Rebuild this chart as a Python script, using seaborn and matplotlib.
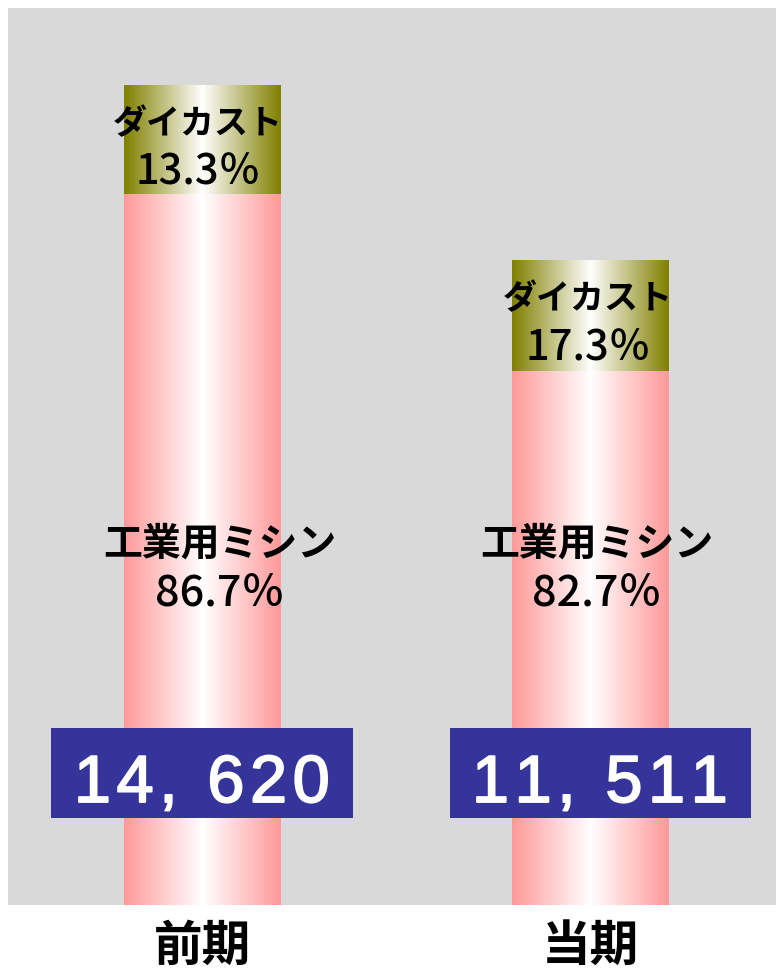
import numpy as np
import matplotlib
matplotlib.use("Agg")
import matplotlib.pyplot as plt
import matplotlib.transforms as mtransforms
import matplotlib.patheffects as pe
from matplotlib.colors import LinearSegmentedColormap
from matplotlib.patches import Rectangle
import seaborn as sns

periods = ["前期", "当期"]
totals = [14620, 11511]
sewing_share = [86.7, 82.7]
diecast_share = [13.3, 17.3]
sewing_name = "工業用ミシン"
diecast_name = "ダイカスト"

sewing_vals = [t * s / 100 for t, s in zip(totals, sewing_share)]

sns.set_style("white")
plt.rcParams["font.family"] = ["Noto Sans CJK JP", "DejaVu Sans"]
plt.rcParams["text.color"] = "black"

fig = plt.figure(figsize=(7.76, 9.71), dpi=100)
ax = fig.add_axes([8 / 776, 66 / 971, 768 / 776, 897 / 971])
ax.set_facecolor("#d9d9d9")

PINK = "#ff9999"
OLIVE = "#808000"

# 元図のラベルの横ずれ（ピクセル）
box_dx = [0, 10]
sewing_dx = [18, 7]
diecast_dx = [-4, -2]


def fill_gradient(ax, patch, color):
    x0, y0 = patch.get_x(), patch.get_y()
    w, h = patch.get_width(), patch.get_height()
    cmap = LinearSegmentedColormap.from_list("g", [color, "white", color])
    grad = np.linspace(0, 1, 256).reshape(1, -1)
    im = ax.imshow(grad, cmap=cmap, aspect="auto", interpolation="bicubic",
                   extent=(x0, x0 + w, y0, y0 + h), zorder=2)
    im.set_clip_path(patch)
    patch.set_facecolor("none")
    patch.set_edgecolor("none")


def spaced(v):
    # 数字の字間を少し広げる
    s = f"{v:,}".replace(",", ", ")
    return "\u200a".join(s)


# 全体（上段＝ダイカスト）と下段（工業用ミシン）
sns.barplot(x=periods, y=totals, color=OLIVE, width=0.402, errorbar=None, ax=ax)
n = len(ax.patches)
sns.barplot(x=periods, y=sewing_vals, color=PINK, width=0.402, errorbar=None, ax=ax)

top_patches = ax.patches[:n]
bot_patches = ax.patches[n:]
for p in top_patches:
    fill_gradient(ax, p, OLIVE)
for p in bot_patches:
    fill_gradient(ax, p, PINK)

ax.set_xlim(-0.5, 1.479)
ax.set_ylim(0, 16000)

trans = mtransforms.blended_transform_factory(ax.transData, ax.transAxes)


def shifted(base, dx=0, dy=0):
    return mtransforms.offset_copy(base, fig=fig, x=dx, y=dy, units="dots")


for i, (tp, bp) in enumerate(zip(top_patches, bot_patches)):
    cx = tp.get_x() + tp.get_width() / 2
    # ダイカスト
    ymid = bp.get_height() + (totals[i] - bp.get_height()) / 2
    ax.text(cx, ymid, diecast_name, ha="center", va="center_baseline",
            fontsize=24.5, fontweight="bold", zorder=5,
            transform=shifted(ax.transData, diecast_dx[i], 20))
    ax.text(cx, ymid, f"{diecast_share[i]}％", ha="center", va="center_baseline",
            fontsize=30, fontweight="medium", zorder=5,
            transform=shifted(ax.transData, diecast_dx[i], -28))
    # 工業用ミシン
    ax.text(cx, 0.407, sewing_name, ha="center", va="center_baseline",
            fontsize=28, fontweight="bold", zorder=5,
            transform=shifted(trans, sewing_dx[i], 0))
    ax.text(cx, 0.352, f"{sewing_share[i]}％", ha="center", va="center_baseline",
            fontsize=31, fontweight="medium", zorder=5,
            transform=shifted(trans, sewing_dx[i], 0))
    # 数値ボックス
    bw = 0.776
    ax.add_patch(Rectangle((cx - bw / 2, 0.097), bw, 0.1003,
                           transform=shifted(trans, box_dx[i], 0),
                           facecolor="#35349a", edgecolor="none", zorder=4))
    ax.text(cx, 0.1148, spaced(totals[i]), ha="center", va="baseline",
            fontsize=48, color="white",
            family=["Liberation Sans", "DejaVu Sans"],
            path_effects=[pe.withStroke(linewidth=1.3, foreground="white")],
            transform=shifted(trans, box_dx[i], 0), zorder=6)

ax.set_xlabel("")
ax.set_ylabel("")
ax.set_yticks([])
ax.tick_params(axis="x", length=0, pad=12, labelsize=35, labelcolor="black")
for lab in ax.get_xticklabels():
    lab.set_fontweight("bold")
for s in ax.spines.values():
    s.set_visible(False)

fig.savefig("out.png", dpi=100)
